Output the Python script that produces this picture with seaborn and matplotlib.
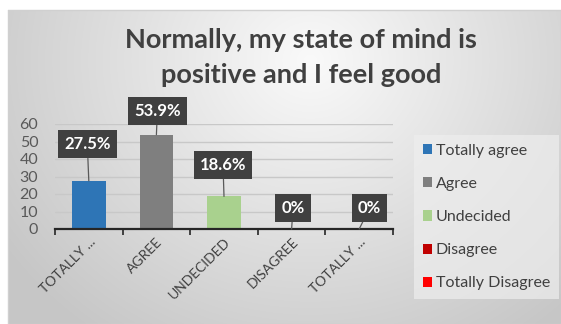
import numpy as np
import pandas as pd
import matplotlib
matplotlib.use("Agg")
import matplotlib.pyplot as plt
import seaborn as sns

# Survey answers and their shares (%)
categories = ["Totally agree", "Agree", "Undecided", "Disagree", "Totally Disagree"]
tick_labels = ["TOTALLY ...", "AGREE", "UNDECIDED", "DISAGREE", "TOTALLY ..."]
values = [27.5, 53.9, 18.6, 0, 0]
colors = ["#2e75b6", "#7f7f7f", "#a9d18e", "#c00000", "#ff0000"]
y_ticks = [0, 10, 20, 30, 40, 50, 60]
title_text = "Normally, my state of mind is\npositive and I feel good"

# pixel offsets of each data-label box from the top of its bar
label_offsets = [(-1.5, 36.5), (1, 23.5), (-1, 31.5), (1.5, 21), (10.5, 21)]

sns.set_theme(style="white")
plt.rcParams["font.family"] = ["Lato", "DejaVu Sans"]

W, H = 561, 324
fig = plt.figure(figsize=(W / 100, H / 100), dpi=100)

# soft radial grey backdrop of the chart panel
bg = fig.add_axes([0, 0, 1, 1], zorder=-5)
yy, xx = np.mgrid[0:H, 0:W]
d = np.sqrt(((xx - 310) / 330.0) ** 2 + ((yy - 60) / 300.0) ** 2)
shade = np.clip(0.98 - 0.18 * d, 0.78, 1.0)
rgb = np.dstack([shade, shade, shade])
rgb[:10, :, :] = 1.0
rgb[:, :8, :] = 1.0
bg.imshow(rgb, extent=(0, W, H, 0), aspect="auto", interpolation="bilinear")
bg.plot([8, W, W, 8, 8], [10, 10, H, H, 10], color="#d0d0d0", lw=1)
bg.set_xlim(0, W)
bg.set_ylim(H, 0)
bg.axis("off")

# plotting area
left, right, top, bottom = 55, 393, 124, 229
ax = fig.add_axes([left / W, (H - bottom) / H, (right - left) / W, (bottom - top) / H])
ax.set_facecolor("none")

df = pd.DataFrame({"category": categories, "value": values})
sns.barplot(data=df, x="category", y="value", hue="category",
            palette=colors, width=0.5, ax=ax, legend=False, saturation=1,
            linewidth=0, zorder=3)

ax.set_ylim(0, 60)
ax.set_xlim(-0.5, len(categories) - 0.5)
ax.set_yticks(y_ticks)
ax.set_yticklabels([str(t) for t in y_ticks], fontsize=11.5, color="#595959")
ax.tick_params(axis="y", length=0, pad=12)
ax.set_xticks(range(len(categories)))
ax.set_xticklabels(tick_labels, rotation=45, ha="right", va="top",
                   rotation_mode="anchor", fontsize=10, color="#404040")
ax.tick_params(axis="x", which="major", length=0, pad=5)
ax.set_xticks(np.arange(-0.5, len(categories), 1.0), minor=True)
ax.tick_params(axis="x", which="minor", length=4, width=1.2, color="#262626",
               direction="out", bottom=True)
ax.set_xlabel("")
ax.set_ylabel("")
ax.grid(axis="y", color="#c8c8c8", lw=1, zorder=0)
ax.set_axisbelow(True)
for side in ["left", "right", "top"]:
    ax.spines[side].set_visible(False)
ax.spines["bottom"].set_color("#262626")
ax.spines["bottom"].set_linewidth(1.6)
ax.spines["bottom"].set_zorder(4)

# dark callout labels with leader lines
for i, (v, (dx, dy)) in enumerate(zip(values, label_offsets)):
    ax.annotate(f"{v:g}%", xy=(i, v), xytext=(dx, dy), textcoords="offset pixels",
                ha="center", va="center", fontsize=12, fontweight="bold",
                color="white", zorder=6, annotation_clip=False,
                bbox=dict(boxstyle="square,pad=0.36", fc="#404040", ec="none"),
                arrowprops=dict(arrowstyle="-", color="#595959", lw=0.9,
                                shrinkA=0, shrinkB=0))

# legend
handles = [plt.Rectangle((0, 0), 1, 1, fc=c, ec="none") for c in colors]
leg = fig.legend(handles, categories, loc="upper left",
                 bbox_to_anchor=(414 / W, 1 - 135 / H), frameon=True,
                 fontsize=11.5, handlelength=0.6, handleheight=0.6,
                 handletextpad=0.2, labelspacing=1.2, borderpad=0.55,
                 borderaxespad=0, labelcolor="#404040")
leg.get_frame().set_facecolor("#eeeeee")
leg.get_frame().set_alpha(0.7)
leg.get_frame().set_edgecolor("none")
leg.get_frame().set_boxstyle("square", pad=0)

fig.text(301 / W, 1 - 28 / H, title_text, ha="center", va="top",
         fontsize=19.5, fontweight="bold", color="#404040", linespacing=1.55)

fig.savefig("out.png", dpi=100)
